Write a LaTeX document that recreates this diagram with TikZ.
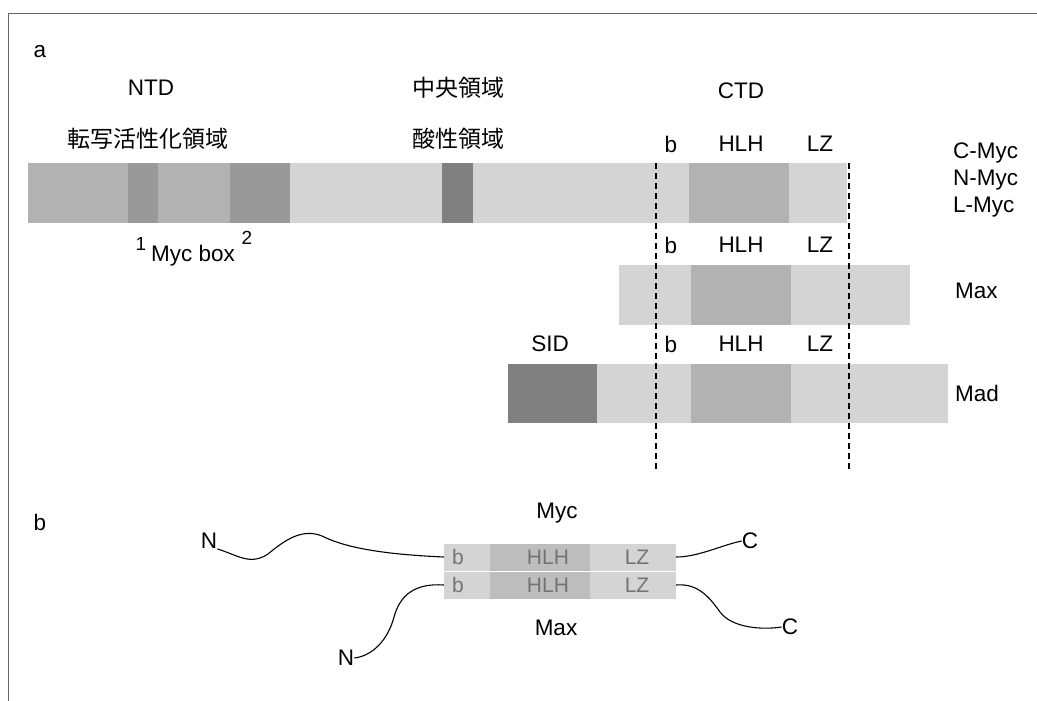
\documentclass[tikz,border=0pt]{standalone}
\usepackage{fontspec}
\setmainfont{Liberation Sans}
\newfontfamily\cjk{Noto Sans CJK JP}
\begin{document}
\begin{tikzpicture}[x=1pt,y=-1pt,
  lbl/.style={font=\fontsize{22.5}{25}\selectfont, inner sep=0pt},
  sm/.style={font=\fontsize{19}{21}\selectfont, inner sep=0pt},
  jp/.style={font=\cjk\fontsize{23}{26}\selectfont, inner sep=0pt},
  inbox/.style={font=\fontsize{21}{23}\selectfont, inner sep=0pt, text=black!55},
  light/.style={fill=black!17},
  mid/.style={fill=black!30},
  dark/.style={fill=black!40},
  darker/.style={fill=black!50},
  guide/.style={line width=1.1pt, dash pattern=on 6pt off 4pt},
  chain/.style={line width=1.1pt}]
\useasboundingbox (0,0) rectangle (1037,701);
\draw[black!60, line width=1pt] (1037,14) -- (8,14) -- (8,701);

% ---------- part a ----------
\node[lbl] (la) at (40,52) {a};
\node[lbl] (ntd) at (151,88) {NTD};
\node[jp] (central) at (458,88) {中央領域};
\node[lbl] (ctd) at (741,91) {CTD};
\node[jp] (tad) at (148,139) {転写活性化領域};
\node[jp] (acid) at (458,139) {酸性領域};

% labels row 1
\node[lbl] (b1) at (671,144) {b};
\node[lbl] (h1) at (741,144) {HLH};
\node[lbl] (z1) at (820,144) {LZ};
\node[lbl, anchor=west] (cmyc) at (953,153) {C-Myc};
\node[lbl, anchor=west] (nmyc) at (953,180) {N-Myc};
\node[lbl, anchor=west] (lmyc) at (953,207) {L-Myc};

% Myc bar
\fill[mid] (28,163) rectangle (128,223);
\fill[dark] (128,163) rectangle (158,223);
\fill[mid] (158,163) rectangle (230,223);
\fill[dark] (230,163) rectangle (290,223);
\fill[light] (290,163) rectangle (442,223);
\fill[darker] (442,163) rectangle (473,223);
\fill[light] (473,163) rectangle (689,223);
\fill[mid] (689,163) rectangle (789,223);
\fill[light] (789,163) rectangle (847,223);

\node[sm] (one) at (141,244) {1};
\node[lbl] (mycbox) at (193,256) {Myc box};
\node[sm] (two) at (247,238) {2};

% labels row 2
\node[lbl] (b2) at (671,245) {b};
\node[lbl] (h2) at (741,245) {HLH};
\node[lbl] (z2) at (820,245) {LZ};
\node[lbl, anchor=west] (max) at (955,291) {Max};

% Max bar
\fill[light] (619,265) rectangle (910,325);
\fill[mid] (691,265) rectangle (791,325);

% labels row 3
\node[lbl] (sid) at (550,344) {SID};
\node[lbl] (b3) at (671,344) {b};
\node[lbl] (h3) at (741,344) {HLH};
\node[lbl] (z3) at (820,344) {LZ};
\node[lbl, anchor=west] (mad) at (955,393) {Mad};

% Mad bar
\fill[light] (597,364) rectangle (948,423);
\fill[mid] (691,364) rectangle (791,423);
\fill[darker] (508,364) rectangle (597,423);

% dashed guides
\draw[guide] (656,163) -- (656,470);
\draw[guide] (849,163) -- (849,470);

% ---------- part b ----------
\node[lbl] (lb) at (40,522) {b};
\node[lbl] (myc) at (557,513) {Myc};
\node[lbl] (maxb) at (556,628) {Max};

\node[minimum width=232pt, minimum height=27pt, inner sep=0pt, light] (upper) at (560,557) {};
\fill[black!26] (490,543.5) rectangle (590,570.5);
\node[minimum width=232pt, minimum height=27pt, inner sep=0pt, light] (lower) at (560,585) {};
\fill[black!26] (490,571.5) rectangle (590,598.5);
\node[inbox] at (458,557) {b};
\node[inbox] at (548,557) {HLH};
\node[inbox] at (637,557) {LZ};
\node[inbox] at (458,585) {b};
\node[inbox] at (548,585) {HLH};
\node[inbox] at (637,585) {LZ};

\node[lbl] (n1) at (209,541) {N};
\node[lbl] (c1) at (750,541) {C};
\node[lbl] (n2) at (346,658) {N};
\node[lbl] (c2) at (790,627) {C};

\draw[chain] (n1.south east) .. controls +(20,6) and (250,566) .. (268,554)
  .. controls (285,540) and (302,528) .. (322,536)
  .. controls (342,546) and (375,554) .. (upper.west);
\draw[chain] (upper.east) .. controls +(22,0) and (722,545) .. (c1.west);
\draw[chain] (n2.east) .. controls +(18,-2) and (388,640) .. (394,617)
  .. controls (400,595) and (415,583) .. (lower.west);
\draw[chain] (lower.east) .. controls +(22,-2) and (710,598) .. (720,612)
  .. controls (732,628) and (762,630) .. (c2.west);
\end{tikzpicture}
\end{document}
